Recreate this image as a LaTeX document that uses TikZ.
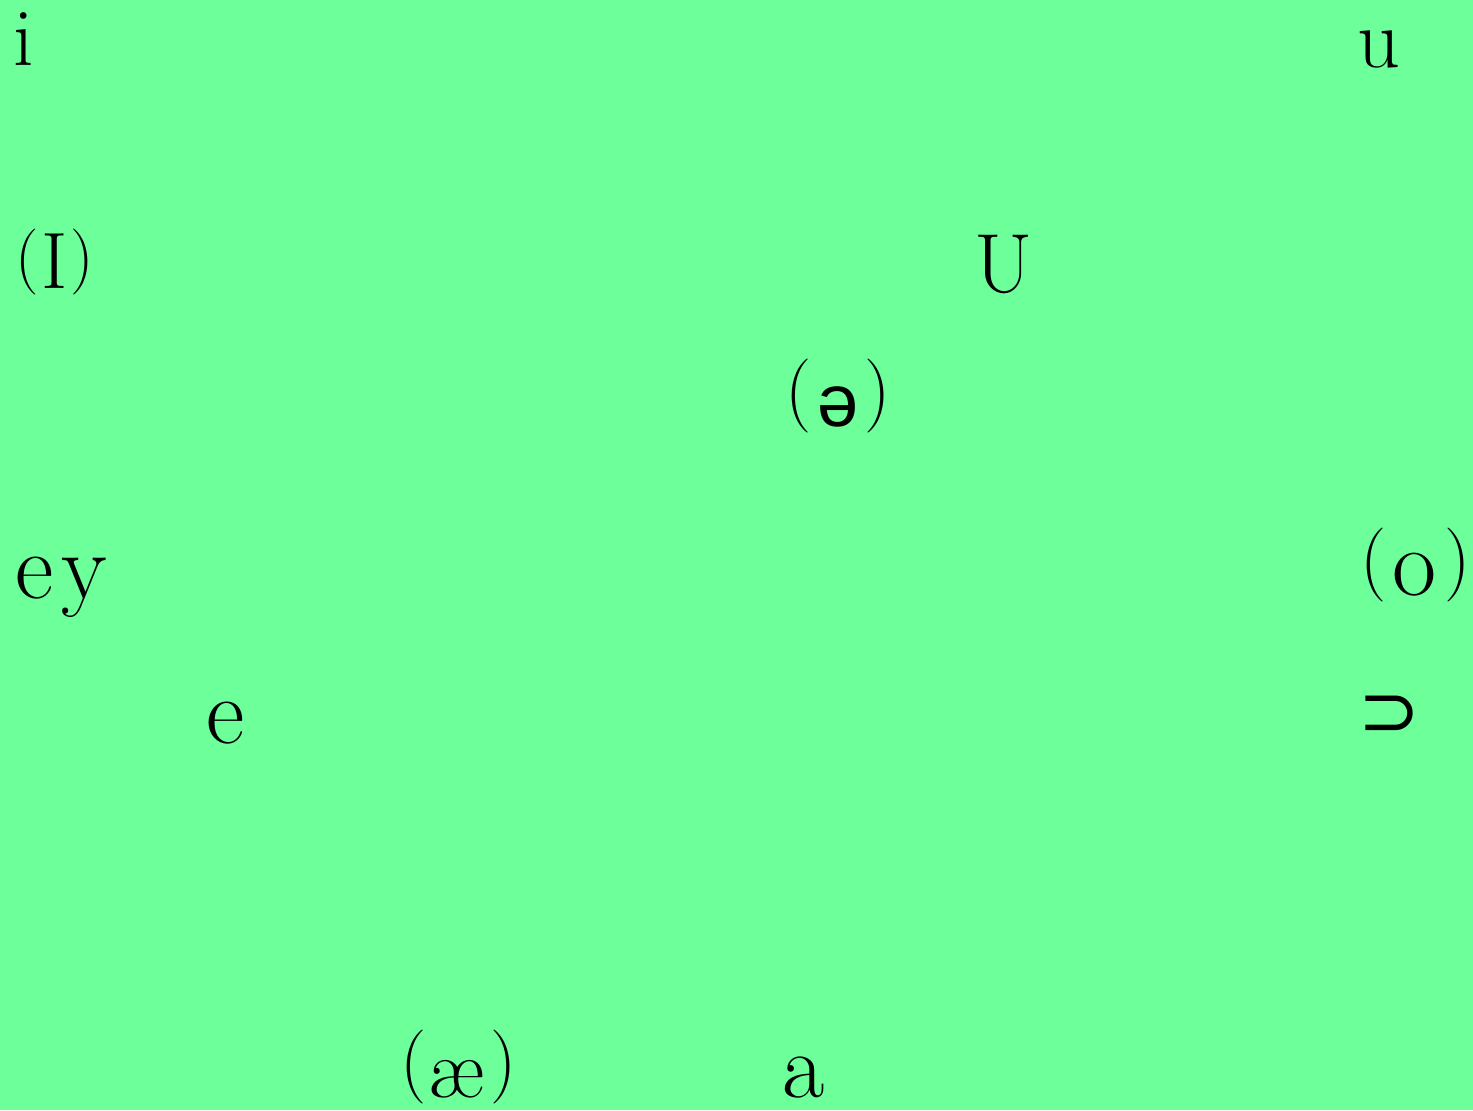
\documentclass[tikz,border=0pt]{standalone}
\usepackage{fontspec}
\newfontfamily\sansipa{Liberation Sans}
\newfontfamily\symfont{DejaVu Sans}
\definecolor{bggreen}{RGB}{108,255,154}
\newcommand{\fs}[1]{\fontsize{#1}{#1}\selectfont}
\newcommand{\lpar}{{\fs{37}\raisebox{5.75pt}{(}}}
\newcommand{\rpar}{{\fs{37}\raisebox{5.75pt}{)}}}
\begin{document}
\begin{tikzpicture}[x=0.5pt,y=-0.5pt,
  vowel/.style={inner sep=0pt,outer sep=0pt,anchor=base west,text=black}]
\fill[bggreen] (0,0) rectangle (1473,1110);
\useasboundingbox (0,0) rectangle (1473,1110);
\node[vowel] (i) at (13,65) {\fs{41}i};
\node[vowel] (u) at (1357,67) {\fs{42}u};
\node[vowel] (I) at (15,288) {{\fs{33}\raisebox{5pt}{(}}\hspace{1.5pt}\fs{40}I\hspace{1.5pt}{\fs{33}\raisebox{5pt}{)}}};
\node[vowel] (U) at (974,292) {\fs{42}U};
\node[vowel] (schwa) at (785,426) {\lpar\hspace{3pt}{\fs{37}\sansipa ə}\hspace{3pt}\rpar};
\node[vowel] (ey) at (15,598) {\fs{47}e\hspace{4pt}y};
\node[vowel] (o) at (1360,595) {\lpar\hspace{3pt}{\fs{48}o}\hspace{4pt}\rpar};
\node[vowel] (e) at (206,743) {\fs{47}e};
\node[vowel,anchor=west] (oo) at (1358,716) {\fs{37}\symfont ⊃};
\node[vowel] (ae) at (400,1097) {\lpar\hspace{1pt}{\fs{42}æ}\hspace{3pt}\rpar};
\node[vowel] (a) at (782,1097) {\fs{46}a};
\end{tikzpicture}
\end{document}
